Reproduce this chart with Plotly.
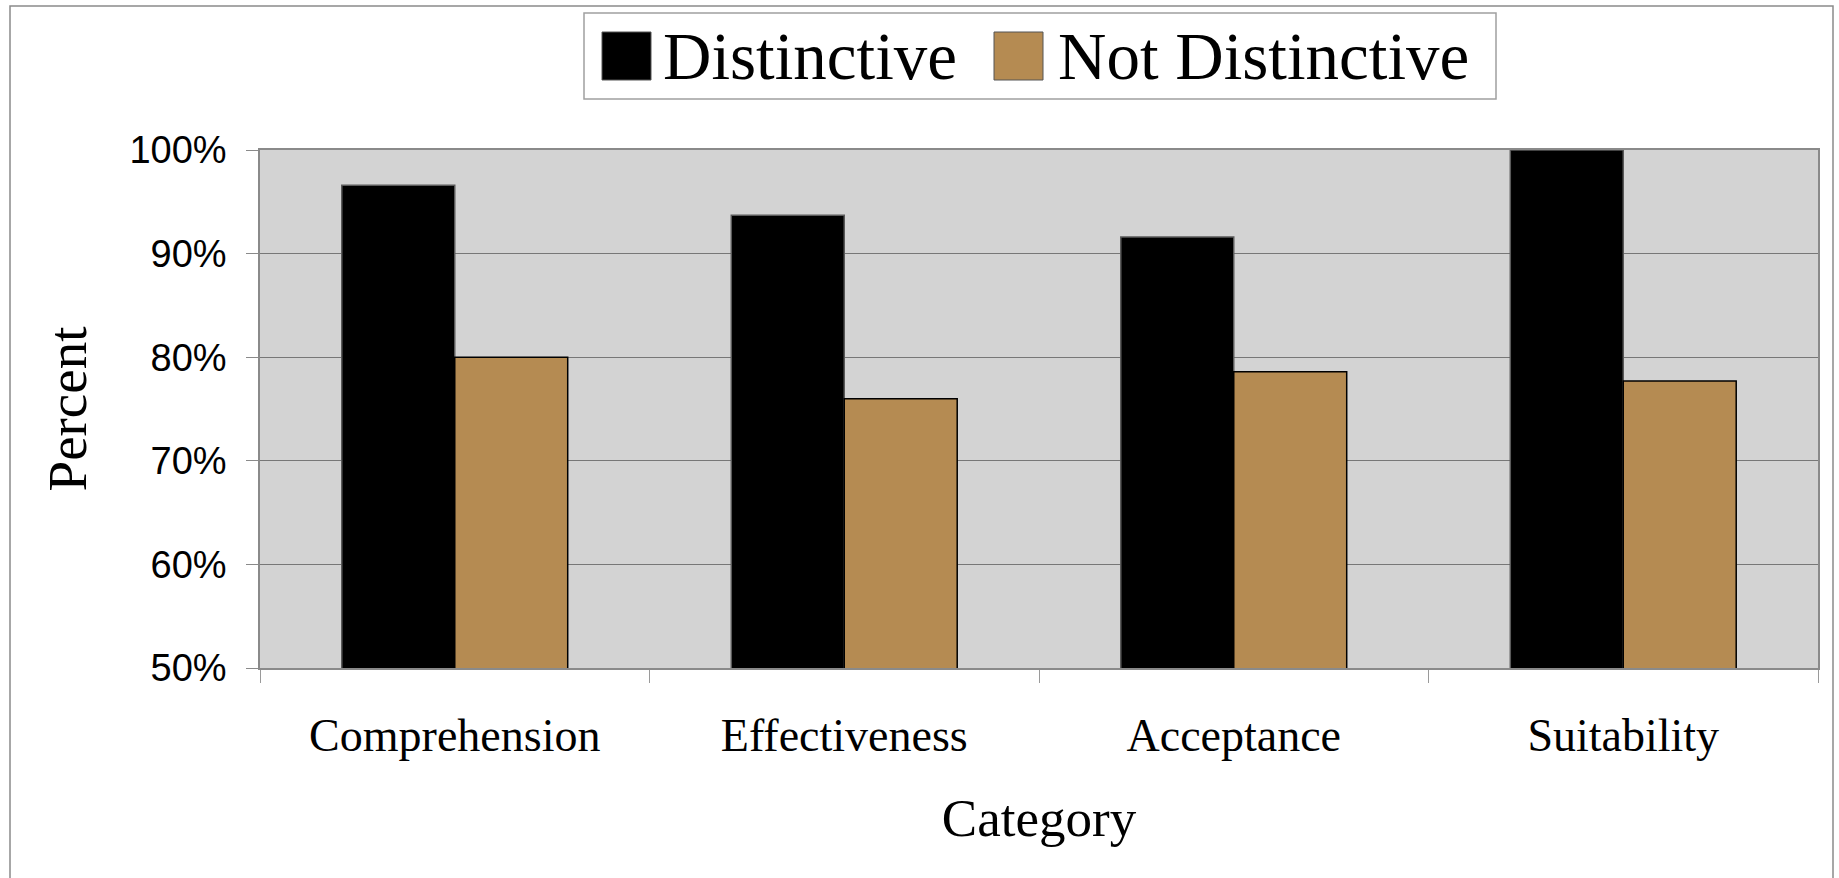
import plotly.graph_objects as go

# Survey results by category
categories = ["Comprehension", "Effectiveness", "Acceptance", "Suitability"]
series_names = ["Distinctive", "Not Distinctive"]
distinctive = [0.966, 0.937, 0.916, 1.000]
not_distinctive = [0.800, 0.760, 0.786, 0.777]
y_ticks = [0.5, 0.6, 0.7, 0.8, 0.9, 1.0]

colors = ["#000000", "#B58B52"]
outline = ["#5a5a5a", "#000000"]

W, H = 1839, 878
L, R, T, B = 260, 21, 150, 210
PW, PH = W - L - R, H - T - B


def px_x(x):
    return (x - L) / PW


def px_y(y):
    return (H - B - y) / PH


serif = "Liberation Serif"
sans = "Liberation Sans"

fig = go.Figure()
for name, vals, c, oc in zip(series_names, [distinctive, not_distinctive], colors, outline):
    fig.add_trace(go.Bar(
        x=categories, y=vals, name=name,
        marker=dict(color=c, line=dict(color=oc, width=1.5)),
        showlegend=False,
    ))

fig.update_layout(
    width=W, height=H,
    margin=dict(l=L, r=R, t=T, b=B),
    paper_bgcolor="white",
    plot_bgcolor="#D3D3D3",
    barmode="group",
    bargap=0.42,
    bargroupgap=0,
    xaxis=dict(
        showline=True, linecolor="#8a8a8a", linewidth=1.5, mirror=True,
        ticks="outside", tickson="boundaries", ticklen=13, tickcolor="#9a9a9a",
        tickfont=dict(family=serif, size=46, color="black"),
        ticklabelstandoff=26,
        showgrid=False,
        title=dict(text="Category", font=dict(family=serif, size=53, color="black"), standoff=39),
    ),
    yaxis=dict(
        range=[0.5, 1.0], tickvals=y_ticks, tickformat=".0%",
        showline=True, linecolor="#8a8a8a", linewidth=1.5, mirror=True,
        ticks="outside", ticklen=12, tickcolor="#8a8a8a",
        tickfont=dict(family=sans, size=38, color="black"),
        ticklabelstandoff=12,
        showgrid=True, gridcolor="#777777", gridwidth=1.2,
        zeroline=False,
        title=dict(text="Percent", font=dict(family=serif, size=55, color="black"), standoff=25),
    ),
)

# Outer frame
fig.add_shape(type="rect", xref="paper", yref="paper",
              x0=px_x(10), x1=px_x(1833), y0=px_y(890), y1=px_y(6),
              line=dict(color="#8a8a8a", width=1.5), layer="below")

# Legend box with large swatches
fig.add_shape(type="rect", xref="paper", yref="paper",
              x0=px_x(584), x1=px_x(1496), y0=px_y(99), y1=px_y(13),
              line=dict(color="#a0a0a0", width=1.5), fillcolor="white")
swatch_x = [602, 994]
text_x = [661, 1056]
for name, c, sx, tx in zip(series_names, colors, swatch_x, text_x):
    fig.add_shape(type="rect", xref="paper", yref="paper",
                  x0=px_x(sx), x1=px_x(sx + 49), y0=px_y(80), y1=px_y(32),
                  line=dict(color="#555555", width=1), fillcolor=c)
    fig.add_annotation(xref="paper", yref="paper", x=px_x(tx), y=px_y(56),
                       xanchor="left", yanchor="middle", showarrow=False,
                       text=name, font=dict(family=serif, size=67, color="black"))

fig.write_html("out.html")
